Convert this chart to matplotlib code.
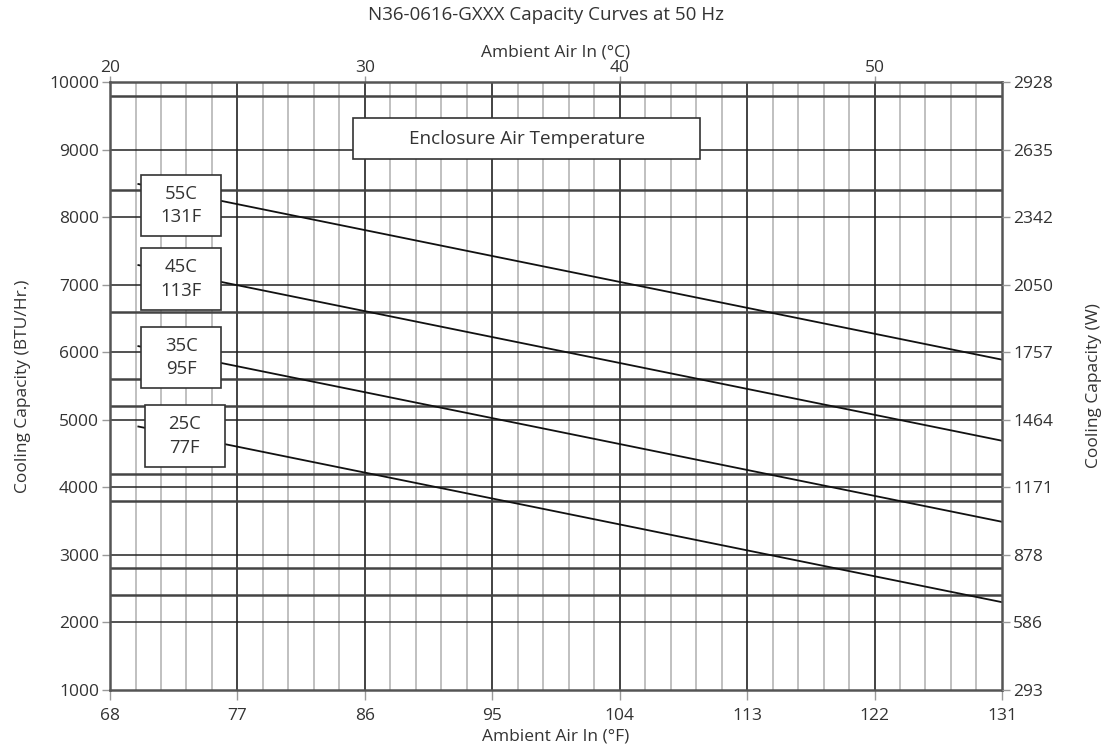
import matplotlib
matplotlib.use("Agg")
import matplotlib.pyplot as plt
from matplotlib.patches import Rectangle
import numpy as np

plt.rcParams['font.family'] = ['Open Sans', 'DejaVu Sans']

# ---- data ----
ambient_f = [70, 131]
curve_labels = ["55C\n131F", "45C\n113F", "35C\n95F", "25C\n77F"]
curve_55c = [8490, 5890]
curve_45c = [7290, 4690]
curve_35c = [6090, 3490]
curve_25c = [4900, 2300]
curves = [curve_55c, curve_45c, curve_35c, curve_25c]

x_ticks_f = [68, 77, 86, 95, 104, 113, 122, 131]
x_ticks_c = [20, 30, 40, 50]
y_ticks = [1000, 2000, 3000, 4000, 5000, 6000, 7000, 8000, 9000, 10000]
w_labels = ["293", "586", "878", "1171", "1464", "1757", "2050", "2342", "2635", "2928"]
extra_h_lines = [9800, 8400, 6600, 5600, 5200, 4200, 3800, 2800, 2400]

# label boxes: (x0, x1, y0, y1) in data units
label_boxes = [(70.2, 75.85, 7722, 8624),
               (70.2, 75.85, 6627, 7544),
               (70.2, 75.85, 5469, 6371),
               (70.45, 76.1, 4300, 5222)]
enclosure_box = (85.15, 109.7, 8857, 9463)

TXT = '#333333'
TICK_FS = 12.5
LAB_FS = 12.5

fig = plt.figure(figsize=(11.07, 7.49), dpi=100)
ax = fig.add_axes([0.0994, 0.0788, 0.9051 - 0.0994, 0.8905 - 0.0788])
ax.set_xlim(68, 131)
ax.set_ylim(1000, 10000)

# vertical grid: minor every 1 degC (1.8 F), major every 9 F
minor_x = np.arange(68, 131.01, 1.8)
for xv in minor_x:
    if any(abs(xv - m) < 1e-6 for m in x_ticks_f):
        continue
    ax.axvline(xv, color='#b5b5b5', lw=1.2, zorder=1)
for xv in x_ticks_f[1:-1]:
    ax.axvline(xv, color='#222222', lw=1.2, zorder=2)

# horizontal lines
for yv in y_ticks[1:-1]:
    ax.axhline(yv, color='#222222', lw=1.1, zorder=2)
for yv in extra_h_lines:
    ax.axhline(yv, color='#444444', lw=1.8, zorder=2)

# curves
for c in curves:
    ax.plot(ambient_f, c, color='#111111', lw=1.3, zorder=3)

# label boxes
for (x0, x1, y0, y1), lab in zip(label_boxes, curve_labels):
    ax.add_patch(Rectangle((x0, y0), x1 - x0, y1 - y0, facecolor='white',
                           edgecolor='#333333', lw=1.2, zorder=4))
    ax.text((x0 + x1) / 2, (y0 + y1) / 2, lab, ha='center', va='center',
            fontsize=13.3, color=TXT, zorder=5, linespacing=1.4)

x0, x1, y0, y1 = enclosure_box
ax.add_patch(Rectangle((x0, y0), x1 - x0, y1 - y0, facecolor='white',
                       edgecolor='#333333', lw=1.2, zorder=4))
ax.text((x0 + x1) / 2, (y0 + y1) / 2, "Enclosure Air Temperature",
        ha='center', va='center', fontsize=13.6, color=TXT, zorder=5)

# spines
for s in ax.spines.values():
    s.set_color('#555555')
    s.set_linewidth(1.8)
    s.set_zorder(6)

# ticks
ax.set_xticks(x_ticks_f)
ax.set_xticklabels([str(v) for v in x_ticks_f])
ax.set_yticks(y_ticks)
ax.set_yticklabels([str(v) for v in y_ticks])
ax.tick_params(axis='x', direction='out', length=7, width=1, color='#999999',
               labelsize=TICK_FS, labelcolor=TXT, pad=6)
ax.tick_params(axis='y', direction='out', length=6, width=1, color='#999999',
               labelsize=TICK_FS, labelcolor=TXT, pad=2)
ax.set_xlabel("Ambient Air In (°F)", fontsize=LAB_FS, color=TXT, labelpad=3)
ax.set_ylabel("Cooling Capacity (BTU/Hr.)", fontsize=LAB_FS, color=TXT, labelpad=13)

# right axis
axr = ax.twinx()
axr.set_ylim(ax.get_ylim())
axr.set_yticks(y_ticks)
axr.set_yticklabels(w_labels)
axr.tick_params(direction='out', length=6, width=1, color='#999999',
                labelsize=TICK_FS, labelcolor=TXT, pad=2)
axr.set_ylabel("Cooling Capacity (W)", fontsize=LAB_FS, color=TXT, labelpad=24)
for s in axr.spines.values():
    s.set_visible(False)

# top axis in Celsius
axt = ax.secondary_xaxis('top', functions=(lambda f: (f - 32) * 5 / 9,
                                           lambda c: c * 9 / 5 + 32))
axt.set_xticks(x_ticks_c)
axt.set_xticklabels([str(v) for v in x_ticks_c])
axt.tick_params(direction='out', length=4, width=1, color='#999999',
                labelsize=TICK_FS, labelcolor=TXT, pad=0)
axt.set_xlabel("Ambient Air In (°C)", fontsize=LAB_FS, color=TXT, labelpad=3)
axt.spines['top'].set_visible(False)

fig.text(0.4935, 0.98, "N36-0616-GXXX Capacity Curves at 50 Hz", ha='center',
         va='center', fontsize=13.5, color=TXT)

fig.savefig("out.png", dpi=100, facecolor='white')
